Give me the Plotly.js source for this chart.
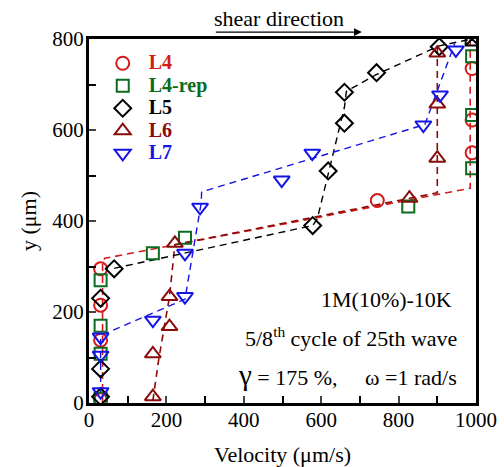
<!DOCTYPE html>
<html>
<head>
<meta charset="utf-8">
<script src="https://cdn.plot.ly/plotly-3.0.1.min.js"></script>
<style>body{margin:0;padding:0;background:#fff}#chart{width:504px;height:467px}</style>
</head>
<body>
<div id="chart"></div>
<script>
// ---- data ----
const seriesNames = ['L4', 'L4-rep', 'L5', 'L6', 'L7'];

const L4_v = [30, 30, 30, 30, 745, 990, 990, 990];
const L4_y = [7, 138, 215, 295, 445, 550, 622, 735];

const L4rep_v = [30, 30, 30, 30, 165, 248, 825, 990, 990, 990];
const L4rep_y = [10, 108, 170, 270, 329, 363, 432, 516, 633, 762];

const L5_v = [30, 30, 30, 65, 578, 618, 660, 660, 743, 905, 990];
const L5_y = [14, 75, 230, 295, 390, 510, 615, 683, 726, 783, 800];

const L6_v = [165, 165, 208, 208, 222, 828, 900, 900, 900];
const L6_y = [14, 108, 168, 234, 351, 450, 538, 657, 769];

const L7_v = [30, 30, 30, 165, 248, 248, 287, 498, 577, 864, 907, 948];
const L7_y = [25, 105, 145, 182, 234, 329, 430, 490, 549, 611, 677, 776];

// guide (fit) lines drawn as dashed segments
const L4_fit_v = [35, 35, 41, 985, 985];
const L4_fit_y = [0, 312, 318, 472, 800];

const L5_fit_v = [65, 578, 590, 660, 665, 743, 905, 990];
const L5_fit_y = [296, 390, 405, 650, 685, 722, 785, 800];

const L6_fit_v = [165, 180, 208, 222, 900, 900];
const L6_fit_y = [5, 95, 234, 348, 462, 790];

const L7_fit_v = [30, 30, 248, 290, 291, 868, 945];
const L7_fit_y = [20, 148, 228, 440, 464, 612, 790];

// axis ticks
const xTickVals = [0, 200, 400, 600, 800, 1000];
const yTickVals = [0, 200, 400, 600, 800];

const colors = {
  L4: '#d41a1a',
  L4rep: '#0b6b1f',
  L5: '#000000',
  L6: '#8b0a0a',
  L7: '#1414e6'
};

function lbl(t, c) { return '<span style="color:' + c + ';font-size:20px"><b>' + t + '</b></span>'; }

const mk = (sym, c, size) => ({symbol: sym, size: size, color: c, line: {color: c, width: 2}});

const L5sym = L5_v.map((v, i) => i === L5_v.length - 1 ? 'square-x-open' : 'diamond-open');

const traces = [
  {x: L4_fit_v, y: L4_fit_y, mode: 'lines', line: {color: colors.L4, dash: '7px,5px', width: 1.6}, showlegend: false, hoverinfo: 'skip'},
  {x: L6_fit_v, y: L6_fit_y, mode: 'lines', line: {color: colors.L6, dash: '7px,5px', width: 1.6}, showlegend: false, hoverinfo: 'skip'},
  {x: L5_fit_v, y: L5_fit_y, mode: 'lines', line: {color: colors.L5, dash: '7px,5px', width: 1.4}, showlegend: false, hoverinfo: 'skip'},
  {x: L7_fit_v, y: L7_fit_y, mode: 'lines', line: {color: colors.L7, dash: '7px,5px', width: 1.4}, showlegend: false, hoverinfo: 'skip'},
  {x: L4_v, y: L4_y, mode: 'markers', name: lbl(seriesNames[0], colors.L4), marker: mk('circle-open', colors.L4, 13)},
  {x: L4rep_v, y: L4rep_y, mode: 'markers', name: lbl(seriesNames[1], colors.L4rep), marker: mk('square-open', colors.L4rep, 12)},
  {x: L5_v, y: L5_y, mode: 'markers', name: lbl(seriesNames[2], colors.L5), marker: {symbol: L5sym, size: 13, color: colors.L5, line: {color: colors.L5, width: 2}}},
  {x: L6_v, y: L6_y, mode: 'markers', name: lbl(seriesNames[3], colors.L6), marker: mk('triangle-up-open', colors.L6, 14)},
  {x: L7_v, y: L7_y, mode: 'markers', name: lbl(seriesNames[4], colors.L7), marker: mk('triangle-down-open', colors.L7, 14)}
];

const serif = 'Liberation Serif';

const layout = {
  width: 504, height: 467,
  margin: {l: 89, r: 28, t: 39, b: 64},
  paper_bgcolor: '#fff', plot_bgcolor: '#fff',
  showlegend: true,
  legend: {
    x: 0.02, y: 0.978, xanchor: 'left', yanchor: 'top',
    bgcolor: 'rgba(0,0,0,0)', borderwidth: 0,
    font: {family: serif, size: 15, color: '#000'},
    itemwidth: 42, tracegroupgap: 0
  },
  font: {family: serif, color: '#000'},
  xaxis: {
    range: [0, 1000], tickvals: xTickVals, ticks: 'inside', ticklen: 7, tickwidth: 2,
    tickfont: {family: serif, size: 21, color: '#000'}, ticklabelstandoff: -4,
    showline: true, linewidth: 3, linecolor: '#000', mirror: true, showgrid: false, zeroline: false,
    minor: {dtick: 100, ticks: 'inside', ticklen: 7, tickwidth: 2, tickcolor: '#000', showgrid: false},
    title: {text: 'Velocity (μm/s)', font: {family: serif, size: 22, color: '#000'}, standoff: 16}
  },
  yaxis: {
    range: [0, 800], tickvals: yTickVals, ticks: 'inside', ticklen: 7, tickwidth: 2,
    tickfont: {family: serif, size: 21, color: '#000'}, ticklabelstandoff: -2,
    showline: true, linewidth: 3, linecolor: '#000', mirror: true, showgrid: false, zeroline: false,
    minor: {dtick: 100, ticks: 'inside', ticklen: 7, tickwidth: 2, tickcolor: '#000', showgrid: false},
    title: {text: 'y (μm)', font: {family: serif, size: 22, color: '#000'}, standoff: 10}
  },
  annotations: [
    {xref: 'paper', yref: 'paper', x: 0.491, y: 1.055, text: 'shear direction', showarrow: false,
     font: {family: serif, size: 22, color: '#000'}, xanchor: 'center', yanchor: 'middle'},
    {xref: 'paper', yref: 'paper', x: 0.705, y: 1.019, ax: -149, ay: 0, text: ' ', showarrow: true,
     arrowhead: 2, arrowsize: 1.3, arrowwidth: 1.2, arrowcolor: '#000'},
    {xref: 'paper', yref: 'paper', x: 0.942, y: 0.283, text: '1M(10%)-10K', showarrow: false,
     font: {family: serif, size: 22, color: '#000'}, xanchor: 'right', yanchor: 'middle'},
    {xref: 'paper', yref: 'paper', x: 0.955, y: 0.18, text: '5/8<sup>th</sup> cycle of 25th wave', showarrow: false,
     font: {family: serif, size: 22, color: '#000'}, xanchor: 'right', yanchor: 'middle'},
    {xref: 'paper', yref: 'paper', x: 0.955, y: 0.077, text: '<span style="font-size:29px">γ</span> = 175 %,&nbsp;&nbsp;&nbsp;&nbsp;&nbsp;ω =1 rad/s', showarrow: false,
     font: {family: serif, size: 22, color: '#000'}, xanchor: 'right', yanchor: 'middle'}
  ]
};

Plotly.newPlot('chart', traces, layout, {displayModeBar: false, staticPlot: true});
</script>
</body>
</html>
